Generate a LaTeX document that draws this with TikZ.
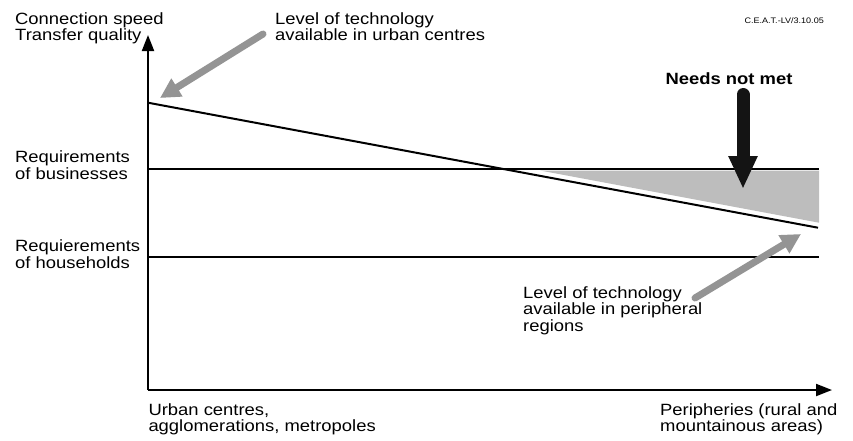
\documentclass[tikz,border=0pt]{standalone}
\usepackage{fontspec}
\setmainfont{Liberation Sans}[FakeStretch=1.13]
\usetikzlibrary{arrows.meta}
\definecolor{pointer}{gray}{0.58}
\definecolor{gap}{gray}{0.74}
\definecolor{heavy}{gray}{0.08}
\tikzset{
  % multi-line labels: the base anchor sits on the last line
  lbl/.style={anchor=base west, inner sep=0pt, align=left,
    font=\fontsize{16.3}{16.5}\selectfont},
  axis/.style={line width=2pt, -{Triangle[length=16pt,width=12pt]}},
  level/.style={line width=1.6pt},
  greyarrow/.style={pointer, line width=7pt, line cap=round,
    -{Triangle[length=20pt,width=20pt]}},
}
\begin{document}
\begin{tikzpicture}[x=1pt,y=-1pt]
\useasboundingbox (0,0) rectangle (853,440);

% axes and reference points
\coordinate (O) at (148,390);
\coordinate (ytip) at (148,35);
\coordinate (xtip) at (832,390);
\coordinate (bizL) at (148,169);
\coordinate (bizR) at (819,169);
\coordinate (homL) at (148,257);
\coordinate (homR) at (819,257);
\coordinate (techL) at (148,102.7);
\coordinate (techR) at (818,227.7);

% shaded shortfall between the business requirement and peripheral supply
\fill[gap] (540,170.5) -- (819,170.5) -- (819,222.7) -- cycle;

% requirement levels
\draw[level] (bizL) -- (bizR);
\draw[level] (homL) -- (homR);

% available technology, falling towards the peripheries
\draw[line width=2pt] (techL) -- (techR);

% axes
\draw[axis] (O) -- (ytip);
\draw[axis] (O) -- (xtip);

% pointers
\coordinate (urbTail) at (263,34);
\coordinate (urbHead) at (160,98);
\draw[greyarrow] (urbTail) -- (urbHead);
\coordinate (perTail) at (695,298);
\coordinate (perHead) at (801,234);
\draw[greyarrow] (perTail) -- (perHead);
\coordinate (needTail) at (743,94.5);
\coordinate (needHead) at (743,189);
\draw[heavy, line width=13pt, line cap=round,
  -{Triangle[length=33pt,width=27pt]}] (needTail) -- (needHead);

% labels
\node[lbl] (yl) at (15,40.5) {Connection speed\\Transfer quality};
\node[lbl] (urb) at (275,40.5) {Level of technology\\available in urban centres};
\node[anchor=base east, inner sep=0pt, font=\fontsize{8}{9}\selectfont] (stamp) at (824,23.3) {C.E.A.T.-LV/3.10.05};
\node[anchor=base, inner sep=0pt, font=\fontsize{16.3}{16.5}\selectfont\bfseries] (need) at (729,84.3) {Needs not met};
\node[lbl] (biz) at (15,179.3) {Requirements\\of businesses};
\node[lbl] (hom) at (15,268.2) {Requierements\\of households};
\node[lbl] (per) at (523,331.3) {Level of technology\\available in peripheral\\regions};
\node[lbl] (xl) at (148.3,431.5) {Urban centres,\\agglomerations, metropoles};
\node[lbl] (xr) at (660,431.5) {Peripheries (rural and\\mountainous areas)};
\end{tikzpicture}
\end{document}
